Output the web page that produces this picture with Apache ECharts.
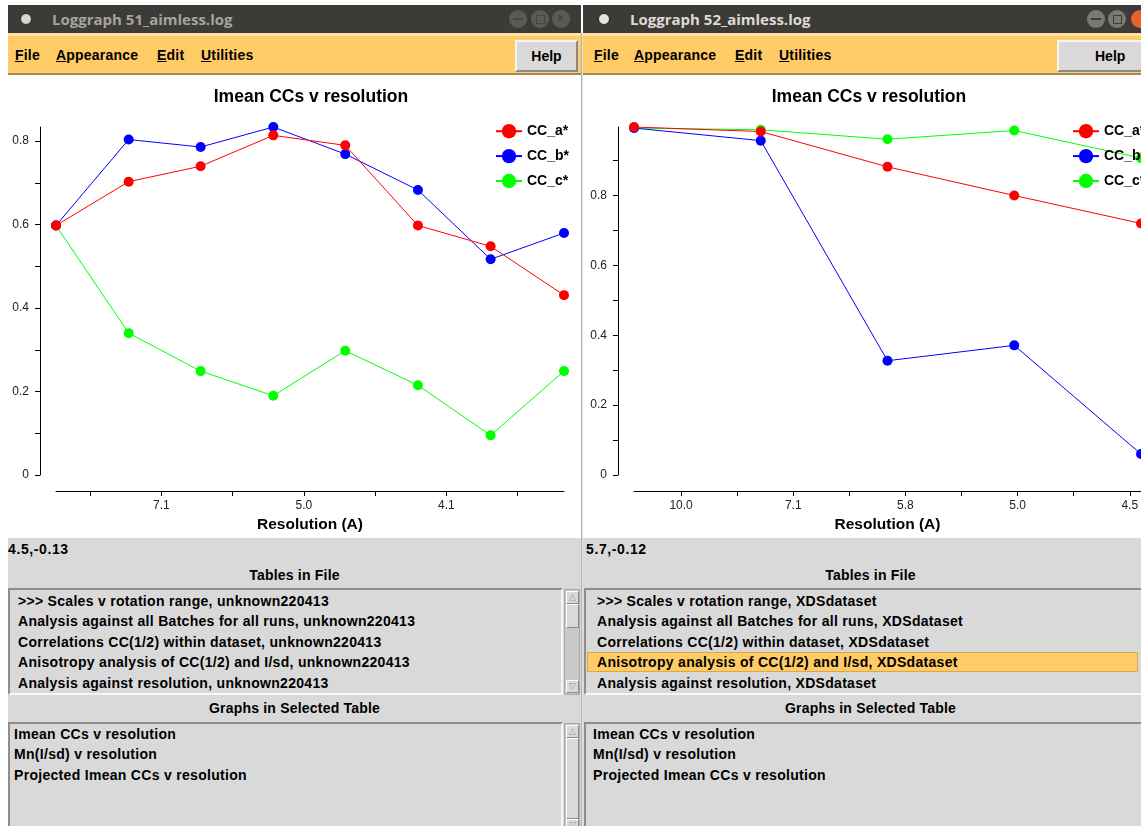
<!DOCTYPE html>
<html><head><meta charset="utf-8">
<script src="https://cdn.jsdelivr.net/npm/echarts@6/dist/echarts.min.js"></script>
<style>
html,body{margin:0;padding:0;}
body{width:1141px;height:826px;overflow:hidden;position:relative;background:#fff;font-family:'Liberation Sans',Arial,sans-serif;color:#000;}
.abs{position:absolute;}
.tbar{position:absolute;top:5px;height:28px;background:#3c3b37;}
.ttl{position:absolute;top:5px;height:28px;line-height:28px;font-family:'Open Sans','Liberation Sans',sans-serif;font-weight:700;font-size:15px;}
.strip{position:absolute;top:33px;height:3px;background:#fde3a4;}
.menubar{position:absolute;top:36px;height:37px;background:#ffcb66;border-bottom:2px solid #a48a58;}
.menu{position:absolute;top:47px;font-weight:700;font-size:14px;letter-spacing:0.2px;}
.menu u{text-decoration:underline;}
.help{position:absolute;top:40px;height:28px;background:#d9d9d9;border-top:2px solid #f4f4f4;border-left:2px solid #f4f4f4;border-right:2px solid #8a8a8a;border-bottom:2px solid #8a8a8a;font-weight:700;font-size:14px;line-height:28px;}
.wbtn{position:absolute;top:10px;width:18px;height:18px;border-radius:50%;}
.panel{position:absolute;top:538px;height:288px;background:#d9d9d9;}
.lbl{position:absolute;font-weight:700;font-size:14px;letter-spacing:0.2px;white-space:nowrap;}
.list{position:absolute;background:#d9d9d9;border-top:2px solid #8e8e8e;border-left:2px solid #8e8e8e;border-bottom:2px solid #f6f6f6;border-right:2px solid #f6f6f6;box-sizing:border-box;}
.item{position:absolute;font-weight:700;font-size:14px;letter-spacing:0.3px;white-space:nowrap;line-height:20px;}
.sb{position:absolute;background:#c9c9c9;border:1px solid #a8a8a8;box-sizing:border-box;}
.arr{position:absolute;left:1px;width:13px;height:13px;background:#d9d9d9;border-top:1px solid #fff;border-left:1px solid #fff;border-right:1px solid #8a8a8a;border-bottom:1px solid #8a8a8a;box-sizing:border-box;color:#9a9a9a;font-size:9px;line-height:11px;text-align:center;}
.thumb{position:absolute;left:1px;width:13px;background:#d9d9d9;border-top:1px solid #fff;border-left:1px solid #fff;border-right:1px solid #8a8a8a;border-bottom:1px solid #8a8a8a;box-sizing:border-box;}
</style>
</head>
<body>
<!-- title bars -->
<div class="tbar" style="left:8px;width:573px;"></div>
<div class="tbar" style="left:583px;width:600px;"></div>
<div class="abs" style="left:20px;top:13px;width:10px;height:10px;border-radius:50%;background:#d8d6d0;border:1px solid #262522;"></div>
<div class="abs" style="left:598px;top:13px;width:10px;height:10px;border-radius:50%;background:#e6e4df;border:1px solid #262522;"></div>
<div class="ttl" style="left:52px;color:#a5a49f;">Loggraph 51_aimless.log</div>
<div class="ttl" style="left:630px;color:#dfdbd2;">Loggraph 52_aimless.log</div>
<div class="wbtn" style="left:509px;background:#5b5a56;"></div>
<div class="wbtn" style="left:531px;background:#5b5a56;"></div>
<div class="wbtn" style="left:552px;background:#5b5a56;"></div>
<div class="wbtn" style="left:1087px;background:#7a7974;"></div>
<div class="wbtn" style="left:1108px;background:#7a7974;"></div>
<div class="wbtn" style="left:1131px;background:#e7602e;"></div>
<div class="abs" style="left:513px;top:18px;width:10px;height:2px;background:#45443f;"></div>
<div class="abs" style="left:536px;top:15px;width:7px;height:7px;border:1px solid #45443f;"></div>
<div class="abs" style="left:557px;top:11px;font-size:12px;color:#45443f;font-weight:700;">×</div>
<div class="abs" style="left:1091px;top:18px;width:10px;height:2px;background:#3c3b37;"></div>
<div class="abs" style="left:1113px;top:15px;width:7px;height:7px;border:1px solid #3c3b37;"></div>
<!-- menu bars -->
<div class="strip" style="left:8px;width:573px;"></div>
<div class="strip" style="left:583px;width:600px;"></div>
<div class="menubar" style="left:8px;width:573px;"></div>
<div class="menubar" style="left:583px;width:600px;"></div>
<div class="menu" style="left:15px;"><u>F</u>ile</div>
<div class="menu" style="left:56px;"><u>A</u>ppearance</div>
<div class="menu" style="left:157px;"><u>E</u>dit</div>
<div class="menu" style="left:201px;"><u>U</u>tilities</div>
<div class="menu" style="left:594px;"><u>F</u>ile</div>
<div class="menu" style="left:634px;"><u>A</u>ppearance</div>
<div class="menu" style="left:735px;"><u>E</u>dit</div>
<div class="menu" style="left:779px;"><u>U</u>tilities</div>
<div class="help" style="left:515px;width:59px;text-align:center;">Help</div>
<div class="help" style="left:1057px;width:90px;padding-left:36px;box-sizing:content-box;">Help</div>
<!-- separator -->
<div class="abs" style="left:581px;top:33px;width:1px;height:793px;background:#b4b4b4;"></div>
<div class="abs" style="left:582px;top:33px;width:1px;height:793px;background:#e2e2e2;"></div>
<!-- charts -->
<div id="chartL" class="abs" style="left:0px;top:77px;width:580px;height:461px;"></div>
<div id="chartR" class="abs" style="left:583px;top:77px;width:580px;height:461px;"></div>
<!-- lower panels -->
<div class="panel" style="left:8px;width:573px;"></div>
<div class="panel" style="left:583px;width:600px;"></div>
<div class="lbl" style="left:8px;top:541px;letter-spacing:0.6px;">4.5,-0.13</div>
<div class="lbl" style="left:586px;top:541px;letter-spacing:0.6px;">5.7,-0.12</div>
<div class="lbl" style="left:8px;width:573px;text-align:center;top:567px;">Tables in File</div>
<div class="lbl" style="left:583px;width:575px;text-align:center;top:567px;">Tables in File</div>
<div class="list" style="left:8px;top:588px;width:555px;height:107px;"></div>
<div class="list" style="left:584px;top:588px;width:570px;height:107px;"></div>
<div class="abs" style="left:587px;top:652px;width:551px;height:20px;background:#ffcb66;border:1px solid #d9a84a;box-sizing:border-box;"></div>
<div class="lbl" style="left:8px;width:573px;text-align:center;top:700px;">Graphs in Selected Table</div>
<div class="lbl" style="left:583px;width:575px;text-align:center;top:700px;">Graphs in Selected Table</div>
<div class="list" style="left:8px;top:722px;width:555px;height:110px;"></div>
<div class="list" style="left:584px;top:722px;width:570px;height:110px;"></div>
<!-- scrollbars -->
<div class="sb" style="left:564px;top:589px;width:16px;height:106px;">
  <div class="arr" style="top:1px;">&#9651;</div>
  <div class="thumb" style="top:14px;height:24px;"></div>
  <div class="arr" style="bottom:1px;">&#9661;</div>
</div>
<div class="sb" style="left:564px;top:723px;width:16px;height:110px;">
  <div class="arr" style="top:1px;">&#9651;</div>
  <div class="thumb" style="top:14px;height:81px;"></div>
  <div class="arr" style="top:95px;">&#9661;</div>
</div>
<div id="itemsL1"></div>
<div id="itemsL2"></div>
<div id="itemsR1"></div>
<div id="itemsR2"></div>

<script>
// ---------- data ----------
const seriesNames = ['CC_a*', 'CC_b*', 'CC_c*'];
const seriesColors = ['#ff0000', '#0000ff', '#00ff00'];

// left window (51_aimless.log): x = 1/d^2
const leftX = [0.0052, 0.0154, 0.0255, 0.0357, 0.0458, 0.0560, 0.0662, 0.0765];
const leftA = [0.598, 0.703, 0.740, 0.814, 0.790, 0.598, 0.548, 0.431];
const leftB = [0.598, 0.804, 0.786, 0.834, 0.769, 0.683, 0.517, 0.580];
const leftC = [0.598, 0.340, 0.249, 0.190, 0.298, 0.215, 0.095, 0.249];
const leftXTicks = [0.01, 0.02, 0.03, 0.04, 0.05, 0.06, 0.07];
const leftXLabels = [0.02, 0.04, 0.06];
const leftYTicks = [0, 0.1, 0.2, 0.3, 0.4, 0.5, 0.6, 0.7, 0.8];
const leftYLabels = [0, 0.2, 0.4, 0.6, 0.8];

// right window (52_aimless.log)
const rightX = [0.0058, 0.0171, 0.0284, 0.0397, 0.0510];
const rightA = [0.996, 0.983, 0.882, 0.800, 0.720];
const rightB = [0.993, 0.957, 0.327, 0.371, 0.060];
const rightC = [0.993, 0.988, 0.961, 0.986, 0.907];
const rightXTicks = [0.01, 0.015, 0.02, 0.025, 0.03, 0.035, 0.04, 0.045, 0.05];
const rightXLabels = [0.01, 0.02, 0.03, 0.04, 0.05];
const rightYTicks = [0, 0.1, 0.2, 0.3, 0.4, 0.5, 0.6, 0.7, 0.8, 0.9];
const rightYLabels = [0, 0.2, 0.4, 0.6, 0.8];

const chartTitle = 'Imean CCs v resolution';
const xAxisName = 'Resolution (A)';

const leftTables = ['>>> Scales v rotation range, unknown220413', 'Analysis against all Batches for all runs, unknown220413',
  'Correlations CC(1/2) within dataset, unknown220413', 'Anisotropy analysis of CC(1/2) and I/sd, unknown220413',
  'Analysis against resolution, unknown220413'];
const rightTables = ['>>> Scales v rotation range, XDSdataset', 'Analysis against all Batches for all runs, XDSdataset',
  'Correlations CC(1/2) within dataset, XDSdataset', 'Anisotropy analysis of CC(1/2) and I/sd, XDSdataset',
  'Analysis against resolution, XDSdataset'];
const graphsList = ['Imean CCs v resolution', 'Mn(I/sd) v resolution', 'Projected Imean CCs v resolution'];

// ---------- list text ----------
function fillList(id, arr, left, top0) {
  const el = document.getElementById(id);
  arr.forEach((t, i) => {
    const d = document.createElement('div');
    d.className = 'item';
    d.style.left = left + 'px';
    d.style.top = (top0 + i * 20.4) + 'px';
    d.textContent = t;
    el.appendChild(d);
  });
}
fillList('itemsL1', leftTables, 18, 591);
fillList('itemsL2', graphsList, 14, 724);
fillList('itemsR1', rightTables, 597, 591);
fillList('itemsR2', graphsList, 593, 724);

// ---------- charts ----------
const FONT = 'Liberation Sans';
function makeOption(cfg) {
  const ys = [cfg.a, cfg.b, cfg.c];
  const order = [2, 1, 0]; // green drawn first, red on top
  return {
    animation: false,
    title: {
      text: chartTitle, left: cfg.titleX, top: 11, textAlign: 'center', padding: 0,
      textStyle: { fontFamily: FONT, fontWeight: 'bold', fontSize: 17.5, color: '#000' }
    },
    legend: {
      data: seriesNames.slice(), orient: 'vertical', left: cfg.legendX, top: 47,
      itemWidth: 26, itemHeight: 18, itemGap: 10.5, padding: 0,
      lineStyle: { width: 2 },
      textStyle: { fontFamily: FONT, fontWeight: 'bold', fontSize: 14, color: '#000' },
      selectedMode: false
    },
    grid: { left: cfg.gridLeft, right: cfg.gridRight, top: 50, bottom: 61, containLabel: false },
    xAxis: {
      type: 'value',
      min: v => v.min, max: v => v.max,
      offset: 16,
      name: xAxisName, nameLocation: 'middle', nameGap: 26,
      nameTextStyle: { fontFamily: FONT, fontWeight: 'bold', fontSize: 15.5, color: '#000' },
      axisLine: { onZero: false, lineStyle: { color: '#000', width: 1 } },
      axisTick: { customValues: cfg.xTicks, length: 5, lineStyle: { color: '#000' } },
      axisLabel: {
        customValues: cfg.xLabels, margin: 9,
        fontFamily: FONT, fontSize: 12, color: '#222',
        formatter: v => (1 / Math.sqrt(v)).toFixed(1)
      },
      splitLine: { show: false }
    },
    yAxis: {
      type: 'value',
      min: 0, max: v => v.max,
      offset: cfg.yOffset,
      axisLine: { show: true, lineStyle: { color: '#000', width: 1 } },
      axisTick: { show: true, customValues: cfg.yTicks, length: 5, lineStyle: { color: '#000' } },
      axisLabel: {
        customValues: cfg.yLabels, margin: 11,
        fontFamily: FONT, fontSize: 12, color: '#222',
        formatter: v => v === 0 ? '0' : v.toFixed(1)
      },
      splitLine: { show: false }
    },
    series: order.map(k => ({
      name: seriesNames[k], type: 'line',
      data: cfg.x.map((x, i) => [x, ys[k][i]]),
      symbol: 'circle', symbolSize: 10,
      color: seriesColors[k],
      lineStyle: { width: 1, color: seriesColors[k] },
      itemStyle: { color: seriesColors[k] },
      emphasis: { disabled: true },
      silent: true
    }))
  };
}

const cl = echarts.init(document.getElementById('chartL'), null, { renderer: 'canvas' });
cl.setOption(makeOption({
  x: leftX, a: leftA, b: leftB, c: leftC,
  xTicks: leftXTicks, xLabels: leftXLabels, yTicks: leftYTicks, yLabels: leftYLabels,
  gridLeft: 56, gridRight: 16, yOffset: 16, titleX: 311, legendX: 495
}));
const cr = echarts.init(document.getElementById('chartR'), null, { renderer: 'canvas' });
cr.setOption(makeOption({
  x: rightX, a: rightA, b: rightB, c: rightC,
  xTicks: rightXTicks, xLabels: rightXLabels, yTicks: rightYTicks, yLabels: rightYLabels,
  gridLeft: 51, gridRight: 22, yOffset: 16, titleX: 286, legendX: 489
}));
</script>
</body></html>
